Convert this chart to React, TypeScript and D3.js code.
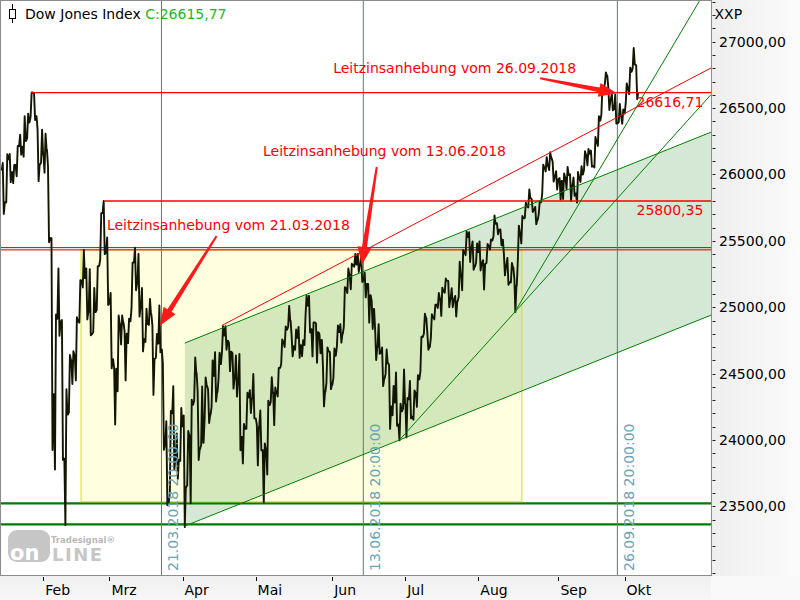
import React from "react";
import * as d3 from "d3";

// ---------- DATA ----------
const tradingDays: string[] = [
  "01-16","01-17","01-18","01-19","01-22","01-23","01-24","01-25","01-26","01-29","01-30","01-31",
  "02-01","02-02","02-05","02-06","02-07","02-08","02-09","02-12","02-13","02-14","02-15","02-16","02-20","02-21","02-22","02-23","02-26","02-27","02-28",
  "03-01","03-02","03-05","03-06","03-07","03-08","03-09","03-12","03-13","03-14","03-15","03-16","03-19","03-20","03-21","03-22","03-23","03-26","03-27","03-28","03-29",
  "04-02","04-03","04-04","04-05","04-06","04-09","04-10","04-11","04-12","04-13","04-16","04-17","04-18","04-19","04-20","04-23","04-24","04-25","04-26","04-27","04-30",
  "05-01","05-02","05-03","05-04","05-07","05-08","05-09","05-10","05-11","05-14","05-15","05-16","05-17","05-18","05-21","05-22","05-23","05-24","05-25","05-29","05-30","05-31",
  "06-01","06-04","06-05","06-06","06-07","06-08","06-11","06-12","06-13","06-14","06-15","06-18","06-19","06-20","06-21","06-22","06-25","06-26","06-27","06-28","06-29",
  "07-02","07-03","07-05","07-06","07-09","07-10","07-11","07-12","07-13","07-16","07-17","07-18","07-19","07-20","07-23","07-24","07-25","07-26","07-27","07-30","07-31",
  "08-01","08-02","08-03","08-06","08-07","08-08","08-09","08-10","08-13","08-14","08-15","08-16","08-17","08-20","08-21","08-22","08-23","08-24","08-27","08-28","08-29","08-30","08-31",
  "09-04","09-05","09-06","09-07","09-10","09-11","09-12","09-13","09-14","09-17","09-18","09-19","09-20","09-21","09-24","09-25","09-26","09-27","09-28",
  "10-01","10-02","10-03","10-04",
];

const highs: number[] = [
  26086,26153,26154,26072,26215,26300,26439,26458,26617,26608,26338,26338,
  26307,26062,25520,24946,25293,24904,24382,24641,24668,24925,25203,25432,25293,25287,25146,25310,25709,25800,25525,
  25108,24545,24939,24938,24819,24914,25336,25449,25402,25145,24989,25063,24862,24798,25013,24575,24142,24218,24406,24050,24241,
  24185,24068,24303,24622,24366,24404,24472,24380,24600,24662,24658,24858,24858,24729,24655,24636,24648,24121,24356,24376,24497,
  24117,24222,23975,24297,24473,24396,24543,24758,24856,25010,24788,24832,24852,24752,25087,25086,24886,24876,24797,24555,24698,24662,
  24690,24863,24873,25151,25292,25328,25402,25402,25400,25260,25175,25050,24830,24872,24697,24682,24563,24408,24509,24273,24531,
  24316,24444,24373,24489,24778,24952,24805,24947,25020,25108,25148,25216,25198,25143,25085,25343,25431,25570,25565,25496,25481,
  25496,25355,25477,25511,25692,25633,25586,25400,25372,25333,25214,25615,25687,25788,25888,25812,25756,25800,26074,26131,26167,26095,26024,
  25973,26008,26057,26001,25977,26019,26062,26175,26193,26180,26283,26439,26657,26769,26655,26609,26600,26532,26490,
  26686,26805,26952,26822,
];

const lows: number[] = [
  25703,25789,25942,25935,25987,26148,26134,26273,26435,26410,25950,26088,
  26014,25490,23924,23778,24785,23849,23360,24206,24422,24449,24884,25149,24908,24789,24813,24979,25358,25400,25017,
  24540,24117,24367,24720,24449,24730,24993,25128,24930,24668,24739,24867,24340,24619,24661,23927,23509,23600,23777,23707,23843,
  23344,23660,23523,24296,23850,23960,24155,24128,24250,24290,24459,24670,24680,24519,24387,24327,23923,23824,24084,24204,24163,
  23809,23922,23531,23740,24287,24112,24328,24570,24700,24853,24630,24680,24620,24631,24937,24810,24630,24582,24654,24253,24429,24383,
  24466,24703,24733,24853,25107,25136,25305,25266,25190,25074,24884,24836,24603,24649,24406,24498,24084,24187,24107,23997,24236,
  24020,24163,24153,24250,24515,24800,24680,24766,24909,24995,24935,25110,25000,25000,24930,25077,25128,25392,25341,25282,25336,
  25277,25133,25335,25434,25534,25550,25467,25240,25169,25186,24965,25353,25481,25672,25752,25717,25624,25700,25853,26023,26033,25946,25886,
  25812,25815,25890,25800,25840,25788,25944,26032,26069,26058,26053,26215,26450,26681,26486,26483,26384,26396,26382,
  26535,26604,26800,26567,
];

const closes: number[] = [
  25792,26115,26017,26071,26214,26210,26252,26392,26617,26439,26076,26149,
  26186,25521,24346,24913,24893,23860,24191,24601,24640,24893,25201,25219,24965,24798,24963,25310,25709,25410,25029,
  24609,24538,24874,24884,24801,24895,25336,25179,25008,24759,24874,24947,24611,24727,24683,23958,23533,24202,23858,23849,24103,
  23644,24034,24265,24505,23933,23979,24408,24189,24483,24360,24573,24787,24748,24665,24463,24448,24024,24084,24322,24311,24163,
  24100,23925,23930,24263,24357,24361,24543,24739,24831,24899,24706,24769,24714,24715,25013,24834,24886,24812,24753,24362,24668,24416,
  24635,24813,24799,25146,25241,25317,25322,25320,25201,25175,25090,24987,24700,24657,24461,24580,24252,24283,24117,24216,24271,
  24307,24175,24357,24456,24776,24920,24700,24924,25019,25064,25120,25199,25064,25058,25044,25241,25415,25528,25451,25307,25415,
  25333,25327,25463,25502,25629,25584,25509,25313,25188,25300,25163,25559,25669,25758,25822,25733,25657,25790,26050,26065,26124,25986,25965,
  25952,25975,25996,25917,25857,25971,25999,26145,26155,26062,26247,26406,26657,26744,26562,26492,26385,26440,26458,
  26651,26774,26828,26615.77,
];

const firstOpen = 26030;
const lastCloseLabel = "C:26615,77";
const titleText = "Dow Jones Index ";

const monthNames: string[] = ["Jan", "Feb", "Mrz", "Apr", "Mai", "Jun", "Jul", "Aug", "Sep", "Okt", "Nov", "Dez"];
const yLabelTicks: number[] = [23500, 24000, 24500, 25000, 25500, 26000, 26500, 27000];

const resistanceLevels: number[] = [26616.71, 25800.35];
const resistanceFrom: string[] = ["01-26", "02-27"];
const resistanceLabels: string[] = ["26616,71", "25800,35"];
const doubleLevels: number[] = [25449, 25432];
const supportLevels: number[] = [23523, 23365];

const eventDates: string[] = ["03-21", "06-13", "09-26"];
const eventLabels: string[] = ["21.03.2018 20:00:00", "13.06.2018 20:00:00", "26.09.2018 20:00:00"];
const annotationTexts: string[] = [
  "Leitzinsanhebung vom 21.03.2018",
  "Leitzinsanhebung vom 13.06.2018",
  "Leitzinsanhebung vom 26.09.2018",
];
const annotationTargetValues: number[] = [24861, 25318, 26611];
const annotationTargetPos: number[] = [33.5, 91.5, 164.8];

// yellow consolidation box: [fromPos, toPos], [top, bottom]
const boxRange: number[] = [10.85, 137.5];
const boxValues: number[] = [25432, 23535];

// trend lines: [pos, value] pairs
const channelLower: [number, number][] = [[40.65, 23352], [191.9, 24941]];
const channelUpper: [number, number][] = [[40.65, 24730], [191.9, 26319]];
const redTrend: [number, number][] = [[51.26, 24862], [191.9, 26803]];
const greenTrendB: [number, number][] = [[102.5, 24005], [191.9, 26603]];
const greenTrendA: [number, number][] = [[135.5, 24965], [188.7, 27314]];

// ---------- LAYOUT ----------
const W = 800;
const H = 600;
const PL = 1;
const PR = 711;
const PT = 1;
const PB = 575;
const FONT = "DejaVu Sans";

const feb1 = tradingDays.indexOf("02-01");
const posOf = (d: string) => tradingDays.indexOf(d) - feb1;

const xScale = d3.scaleLinear().domain([0, 167]).range([43.3, 624.5]);
const yScale = d3.scaleLinear().domain([23500, 27000]).range([506.4, 41.7]);

function arrowPoints(x1: number, y1: number, x2: number, y2: number) {
  const dx = x2 - x1, dy = y2 - y1;
  const len = Math.hypot(dx, dy);
  const ux = dx / len, uy = dy / len;
  const nx = -uy, ny = ux;
  const headL = 18, headW = 14, shaftW = 5, tailW = 2;
  const bx = x2 - ux * headL, by = y2 - uy * headL;
  const p = [
    [x1 + nx * tailW / 2, y1 + ny * tailW / 2],
    [bx + nx * shaftW / 2, by + ny * shaftW / 2],
    [bx + nx * headW / 2, by + ny * headW / 2],
    [x2, y2],
    [bx - nx * headW / 2, by - ny * headW / 2],
    [bx - nx * shaftW / 2, by - ny * shaftW / 2],
    [x1 - nx * tailW / 2, y1 - ny * tailW / 2],
  ];
  return p.map((q) => q.join(",")).join(" ");
}

const annotationLayout = [
  { tail: [56.7, -89.7], text: [-53, -95.7] },
  { tail: [15, -98], text: [-98.7, -109] },
  { tail: [-76.7, -15], text: [-283.7, -20.8] },
];

export default function App() {
  // price path: open -> extreme -> extreme -> close per trading day
  const pts: [number, number][] = [];
  tradingDays.forEach((d, i) => {
    const p = i - feb1;
    const open = i === 0 ? firstOpen : closes[i - 1];
    const up = closes[i] >= open;
    const a = up ? lows[i] : highs[i];
    const b = up ? highs[i] : lows[i];
    pts.push([p + 0.05, open], [p + 0.35, a], [p + 0.65, b], [p + 0.95, closes[i]]);
  });
  const line = d3
    .line<[number, number]>()
    .x((d) => xScale(d[0]))
    .y((d) => yScale(d[1]));
  const pricePath = line(pts) || "";

  const seg = (s: [number, number][]) => ({
    x1: xScale(s[0][0]),
    y1: yScale(s[0][1]),
    x2: xScale(s[1][0]),
    y2: yScale(s[1][1]),
  });

  const channelPoly = [
    [xScale(channelLower[0][0]), yScale(channelLower[0][1])],
    [xScale(channelLower[1][0]), yScale(channelLower[1][1])],
    [xScale(channelUpper[1][0]), yScale(channelUpper[1][1])],
    [xScale(channelUpper[0][0]), yScale(channelUpper[0][1])],
  ]
    .map((q) => q.join(","))
    .join(" ");

  // month ticks
  const monthTicks: { x: number; label: string }[] = [];
  let lastMonth = tradingDays[0].slice(0, 2);
  tradingDays.forEach((d, i) => {
    const m = d.slice(0, 2);
    if (m !== lastMonth) {
      monthTicks.push({ x: xScale(i - feb1), label: monthNames[parseInt(m, 10) - 1] });
      lastMonth = m;
    }
  });

  const minorTicks = d3.range(23000, 27400, 100);
  const fmt = (v: number) => v.toFixed(2).replace(".", ",");

  return (
    <svg
      width={W}
      height={H}
      style={{ position: "absolute", left: 0, top: 0, fontFamily: FONT }}
      xmlns="http://www.w3.org/2000/svg"
    >
      <defs>
        <linearGradient id="rightBg" x1="0" x2="1" y1="0" y2="0">
          <stop offset="0" stopColor="#eeeeee" />
          <stop offset="1" stopColor="#fbfbfb" />
        </linearGradient>
        <linearGradient id="bottomBg" x1="0" x2="0" y1="0" y2="1">
          <stop offset="0" stopColor="#efefef" />
          <stop offset="1" stopColor="#f7f7f7" />
        </linearGradient>
        <clipPath id="plotClip">
          <rect x={PL} y={PT} width={PR - PL} height={PB - PT} />
        </clipPath>
      </defs>

      <rect x={0} y={0} width={W} height={H} fill="#ffffff" />
      <rect x={PR} y={0} width={W - PR} height={H} fill="url(#rightBg)" />
      <rect x={0} y={PB} width={PR} height={H - PB} fill="url(#bottomBg)" />
      <rect x={PR} y={PB + 1} width={W - PR} height={H - PB} fill="#f9f9f9" />

      <g clipPath="url(#plotClip)">
        {/* yellow box */}
        <rect
          x={xScale(boxRange[0])}
          y={yScale(boxValues[0])}
          width={xScale(boxRange[1]) - xScale(boxRange[0])}
          height={yScale(boxValues[1]) - yScale(boxValues[0])}
          fill="#ffffe0"
        />
        {/* green channel fill */}
        <polygon points={channelPoly} fill="#2e8b2e" fillOpacity={0.2} />

        {/* support lines */}
        {supportLevels.map((v, i) => (
          <line key={"s" + i} x1={PL} x2={PR} y1={yScale(v)} y2={yScale(v)} stroke="#007a00" strokeWidth={2.2} />
        ))}
        <rect
          x={xScale(boxRange[0])}
          y={yScale(boxValues[0])}
          width={xScale(boxRange[1]) - xScale(boxRange[0])}
          height={yScale(boxValues[1]) - yScale(boxValues[0])}
          fill="none"
          stroke="#e0e000"
          strokeWidth={1}
        />

        {/* double red lines */}
        {doubleLevels.map((v, i) => (
          <line key={"d" + i} x1={PL} x2={PR} y1={yScale(v)} y2={yScale(v)} stroke="#c80000" strokeWidth={1} />
        ))}

        {/* event vertical lines */}
        {eventDates.map((d, i) => (
          <line
            key={"v" + i}
            x1={xScale(posOf(d) + 0.95)}
            x2={xScale(posOf(d) + 0.95)}
            y1={PT}
            y2={PB}
            stroke="#4a8080"
            strokeWidth={1}
          />
        ))}

        {/* price */}
        <path d={pricePath} fill="none" stroke="#121600" strokeWidth={1.9} strokeLinejoin="round" />

        {/* resistance lines */}
        {resistanceLevels.map((v, i) => (
          <line
            key={"r" + i}
            x1={xScale(posOf(resistanceFrom[i]) + 0.5)}
            x2={PR}
            y1={yScale(v)}
            y2={yScale(v)}
            stroke="#ff0000"
            strokeWidth={1.3}
          />
        ))}

        {/* trend lines */}
        <line {...seg(channelLower)} stroke="#008000" strokeWidth={1} />
        <line {...seg(channelUpper)} stroke="#008000" strokeWidth={1} />
        <line {...seg(greenTrendB)} stroke="#008000" strokeWidth={1} />
        <line {...seg(greenTrendA)} stroke="#008000" strokeWidth={1} />
        <line {...seg(redTrend)} stroke="#ff0000" strokeWidth={1} />

        {/* event date labels */}
        {eventDates.map((d, i) => {
          const x = xScale(posOf(d) + 0.95) + 16.5;
          const y = 571;
          return (
            <text
              key={"el" + i}
              transform={`translate(${x},${y}) rotate(-90)`}
              fontSize={14}
              fill="#66a4b8"
            >
              {eventLabels[i]}
            </text>
          );
        })}

        {/* resistance labels */}
        {resistanceLevels.map((v, i) => (
          <text key={"rl" + i} x={636.5} y={yScale(v) + 14.5} fontSize={14} fill="#ff0000">
            {resistanceLabels[i]}
          </text>
        ))}

        {/* annotations */}
        {annotationTexts.map((t, i) => {
          const tx = xScale(annotationTargetPos[i]);
          const ty = yScale(annotationTargetValues[i]);
          const L = annotationLayout[i];
          return (
            <g key={"a" + i}>
              <polygon points={arrowPoints(tx + L.tail[0], ty + L.tail[1], tx, ty)} fill="#ff1a1a" />
              <text x={tx + L.text[0]} y={ty + L.text[1]} fontSize={14} fill="#ff0000">
                {t}
              </text>
            </g>
          );
        })}
      </g>

      {/* frame */}
      <line x1={0.5} x2={0.5} y1={0} y2={PB} stroke="#8c8c8c" />
      <line x1={0} x2={PR} y1={0.5} y2={0.5} stroke="#8c8c8c" />
      <line x1={PR + 0.5} x2={PR + 0.5} y1={0} y2={PB + 1} stroke="#8c8c8c" />
      <line x1={0} x2={PR + 1} y1={PB + 0.5} y2={PB + 0.5} stroke="#8c8c8c" />

      {/* right axis */}
      {minorTicks.map((v) => (
        <line
          key={"mt" + v}
          x1={PR + 1.5}
          x2={PR + 4.5}
          y1={Math.round(yScale(v)) + 0.5}
          y2={Math.round(yScale(v)) + 0.5}
          stroke="#222"
          strokeWidth={1}
        />
      ))}
      {yLabelTicks.map((v) => (
        <text key={"yl" + v} x={719} y={yScale(v) + 5} fontSize={14} fill="#000">
          {fmt(v)}
        </text>
      ))}
      <text x={714.5} y={18.5} fontSize={14} fill="#000">
        XXP
      </text>

      {/* bottom axis */}
      {monthTicks.map((m, i) => (
        <g key={"m" + i}>
          <line x1={Math.round(m.x) + 0.5} x2={Math.round(m.x) + 0.5} y1={577} y2={581} stroke="#000" />
          <text x={m.x + 2} y={594.5} fontSize={14} fill="#000">
            {m.label}
          </text>
        </g>
      ))}

      {/* title */}
      <line x1={12.5} x2={12.5} y1={4} y2={23} stroke="#000" />
      <rect x={9.5} y={9.5} width={6} height={9} fill="#fff" stroke="#000" />
      <text x={25} y={18.7} fontSize={14} fill="#000">
        {titleText}
        <tspan fill="#1cb81c">{lastCloseLabel}</tspan>
      </text>

      {/* logo */}
      <g>
        <rect x={8} y={530} width={42} height={32} rx={9} fill="#c6c6c6" />
        <text x={10} y={560} fontSize={21} fontWeight="bold" fill="#ffffff" fontFamily="DejaVu Sans">
          on
        </text>
        <text x={52} y={561} fontSize={18} fontWeight="bold" fill="#c6c6c6" letterSpacing={1.5} fontFamily="DejaVu Sans">
          LINE
        </text>
        <text x={51} y={543} fontSize={8.5} fontWeight="bold" fill="#b9b9b9" fontFamily="DejaVu Sans">
          Tradesignal®
        </text>
      </g>
    </svg>
  );
}
